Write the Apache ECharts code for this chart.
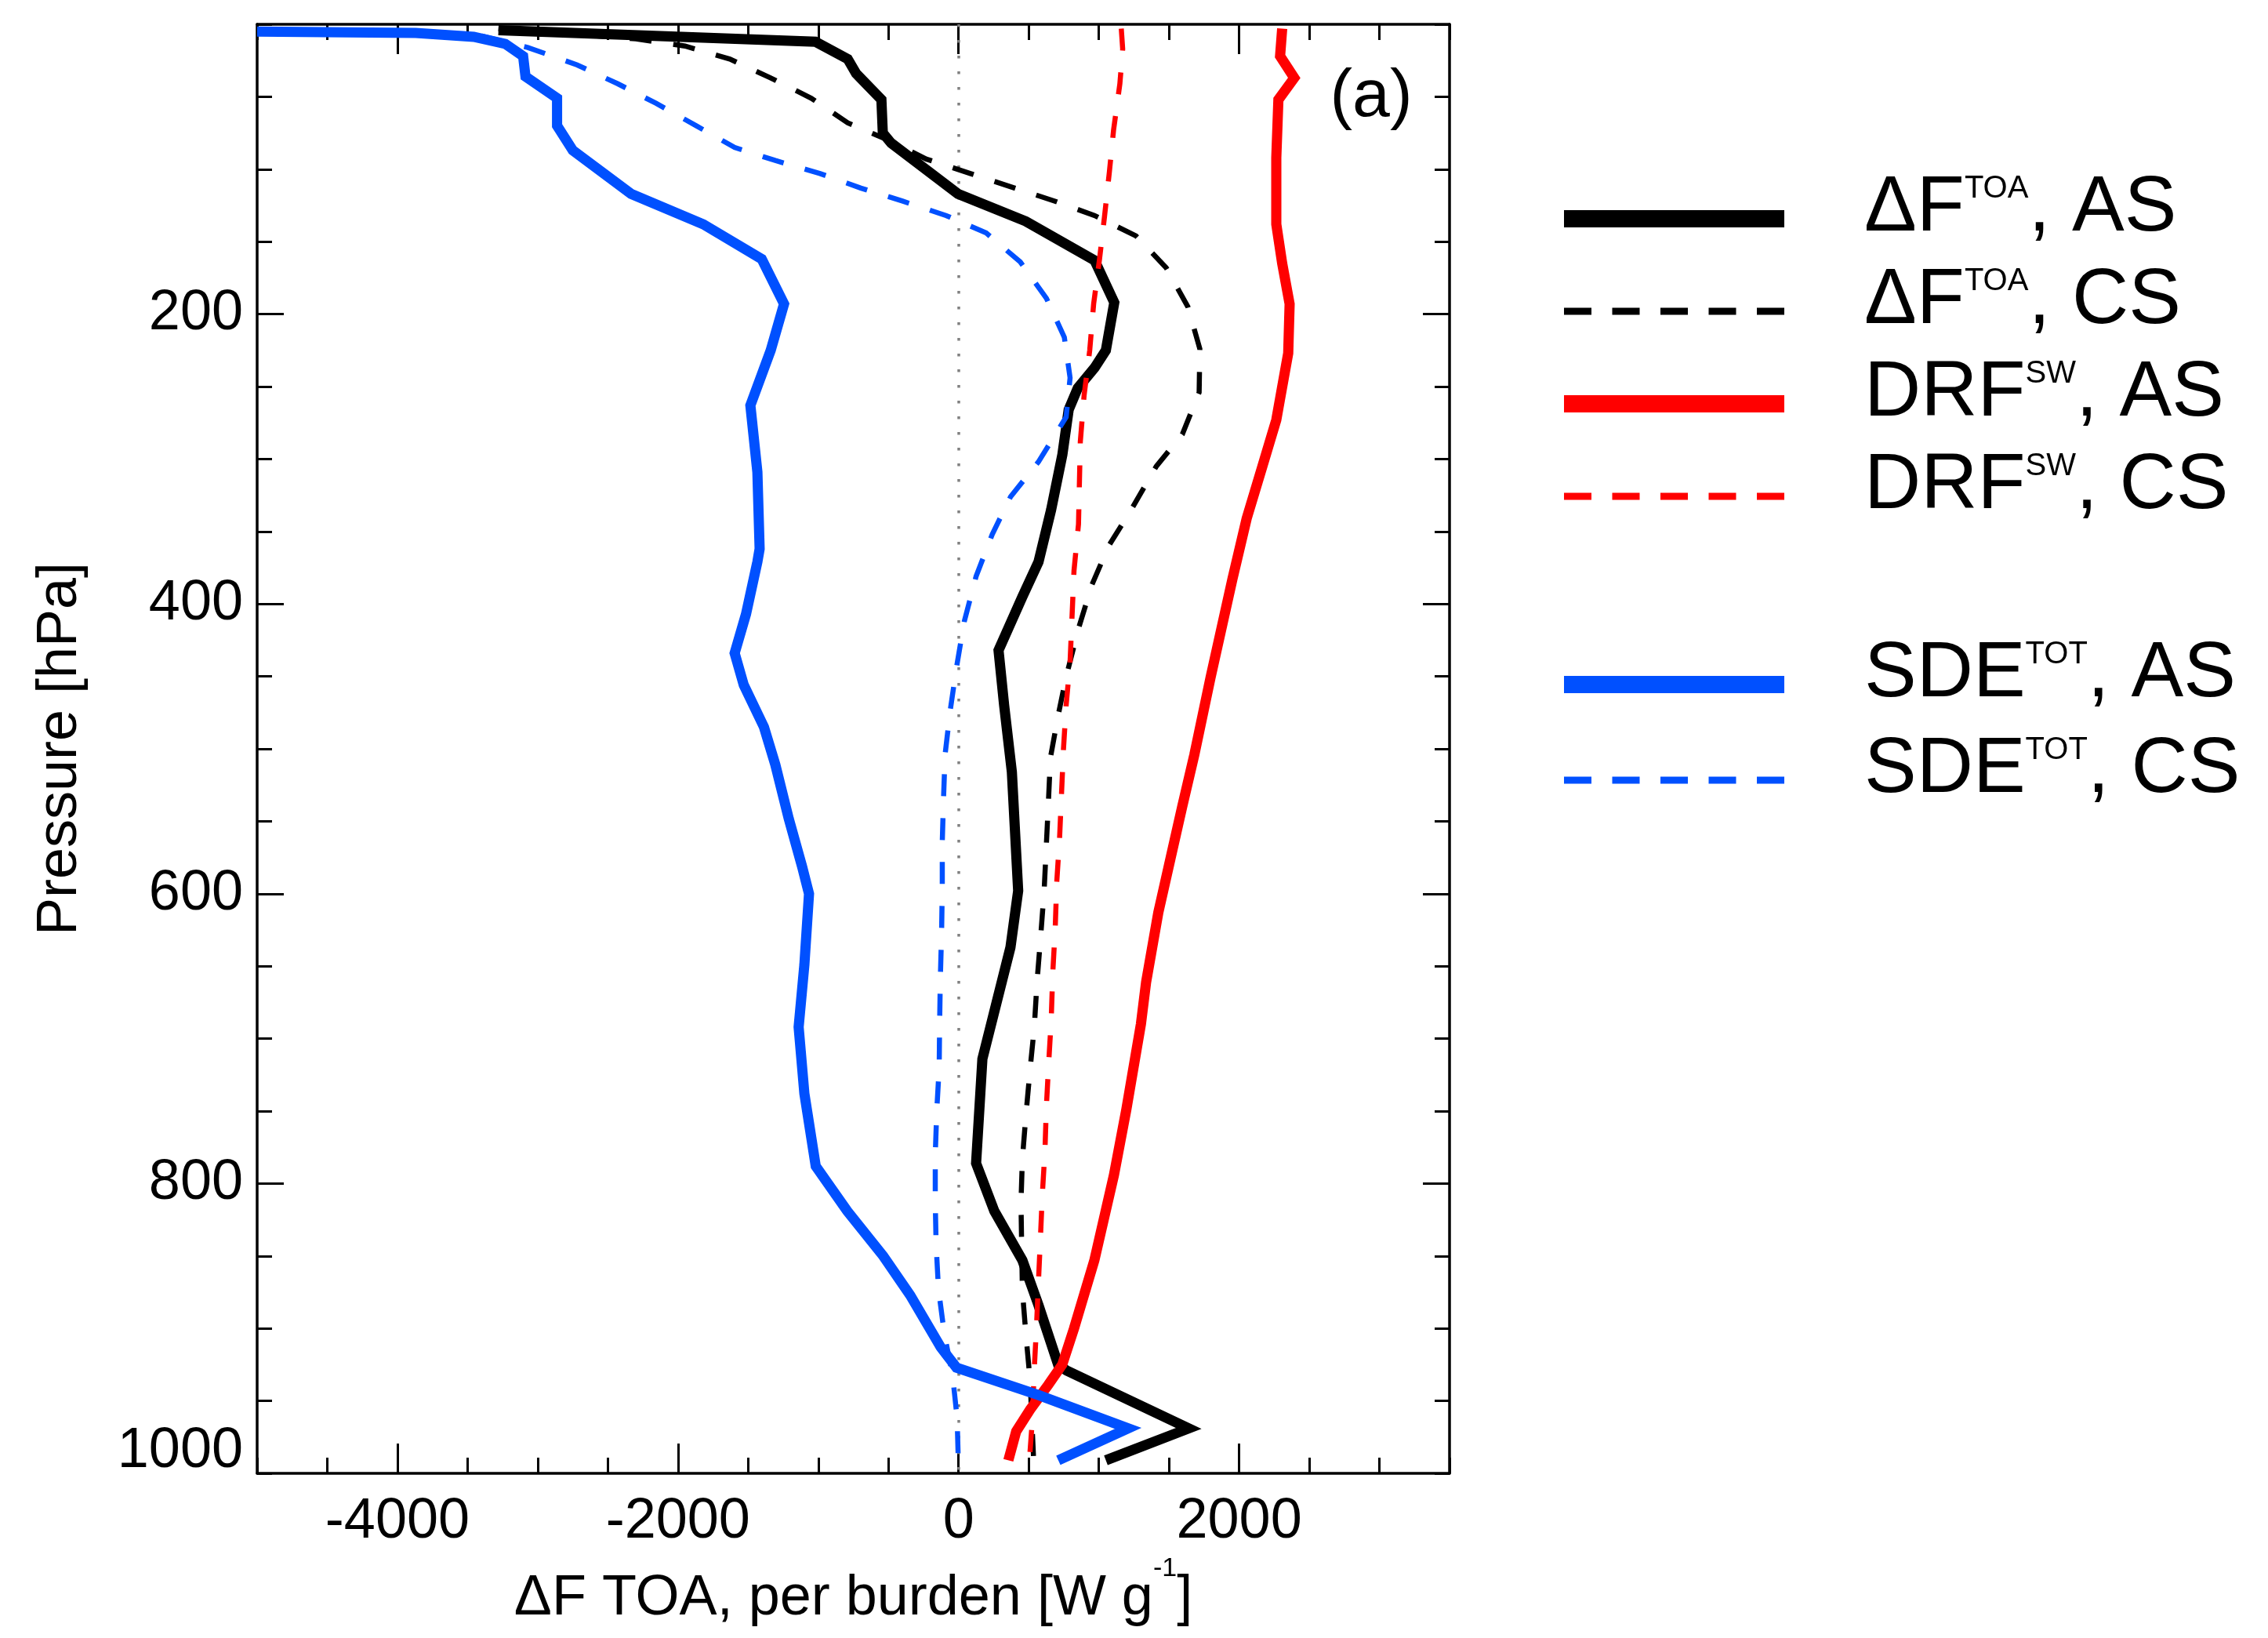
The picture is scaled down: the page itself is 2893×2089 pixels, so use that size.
<!DOCTYPE html>
<html>
<head>
<meta charset="utf-8">
<script src="https://cdn.jsdelivr.net/npm/echarts@6/dist/echarts.min.js"></script>
<style>html,body{margin:0;padding:0;background:#fff}#c{width:2893px;height:2089px}</style>
</head>
<body>
<div id="c"></div>
<script>
const FONT = '"Liberation Sans", Arial, Helvetica, sans-serif';

// ---- data (x: W g^-1, p: hPa) ----
const dfAS_x = [-3280, -1020, -790, -730, -550, -540, -480, -4, 480, 970, 1110, 1050, 970, 850, 785, 740, 660, 570, 455, 285, 325, 380, 425, 370, 170, 125, 255, 455, 570, 710, 770, 1640, 1050];
const dfAS_p = [4, 12, 24, 34, 52, 75, 82, 117, 136, 163, 192, 225, 237, 251, 266, 297, 335, 371, 395, 432, 470, 516, 598, 637, 714, 786, 819, 853, 884, 925, 929, 969, 991];

const dfCS_x = [-3280, -2300, -1950, -1630, -1340, -1050, -790, -500, -230, 85, 400, 685, 970, 1265, 1480, 1635, 1720, 1715, 1595, 1410, 1225, 1070, 950, 855, 765, 710, 655, 640, 625, 610, 585, 560, 540, 510, 480, 455, 445, 450, 455, 480, 510, 527, 535];
const dfCS_p = [3, 10, 15, 24, 37, 51, 68, 80, 93, 103, 113, 122, 132, 146, 168, 195, 224, 254, 283, 305, 336, 360, 387, 417, 451, 477, 506, 538, 568, 598, 630, 660, 692, 721, 753, 783, 813, 844, 874, 904, 936, 973, 990];

const drfAS_x = [2307, 2292, 2393, 2280, 2265, 2265, 2307, 2360, 2350, 2300, 2265, 2166, 2054, 1952, 1796, 1681, 1594, 1510, 1424, 1337, 1300, 1196, 1108, 968, 823, 739, 639, 510, 411, 355];
const drfAS_p = [3, 22, 37, 52, 92, 138, 165, 193, 227, 254, 273, 305, 341, 383, 451, 504, 540, 576, 613, 661, 690, 749, 794, 853, 900, 925, 939, 956, 971, 991];

const drfCS_x = [1160, 1170, 1150, 1105, 1075, 1040, 1005, 963, 935, 895, 868, 855, 823, 795, 767, 748, 734, 720, 700, 689, 672, 660, 643, 626, 616, 597, 583, 569, 555, 538, 527, 505];
const drfCS_p = [3, 17, 41, 73, 102, 133, 162, 193, 225, 256, 288, 345, 377, 440, 470, 500, 531, 562, 592, 624, 654, 688, 716, 747, 777, 808, 839, 869, 900, 931, 962, 991];

const sdeAS_x = [-5000, -3870, -3456, -3231, -3104, -3087, -2862, -2862, -2750, -2334, -1820, -1403, -1244, -1339, -1484, -1434, -1418, -1434, -1515, -1596, -1531, -1387, -1306, -1211, -1116, -1066, -1099, -1140, -1099, -1018, -793, -537, -345, -127, -15, 569, 1209, 711];
const sdeAS_p = [5, 6, 8.6, 13.5, 22, 36, 51, 70, 87, 117, 138, 162, 193, 225, 263, 309, 362, 371, 407, 434, 456, 485, 511, 548, 581, 600, 649, 692, 738, 788, 819, 850, 877, 913, 927, 946, 969, 991];

const sdeCS_x = [-3400, -3070, -2720, -2430, -2157, -1870, -1596, -1306, -987, -697, -400, -88, 197, 440, 626, 754, 795, 767, 569, 371, 240, 125, 41, -15, -60, -96, -107, -116, -116, -121, -130, -135, -138, -155, -166, -166, -160, -143, -101, -43, -10, -2];
const sdeCS_p = [8, 16, 28, 41, 54.5, 70, 85, 94, 103, 113, 122, 132, 144, 164, 189, 216, 244, 271, 302, 326, 352, 381, 412, 444, 474, 504, 534, 564, 596, 627, 659, 690, 720, 749, 780, 813, 842, 873, 904, 932, 962, 991];

const xMajorTicks = [-4000, -2000, 0, 2000];
const yMajorTicks = [200, 400, 600, 800];
const yTickLabels = [200, 400, 600, 800, 1000];
const zeroRef = 0;

const seriesNames = ['ΔF TOA, AS', 'ΔF TOA, CS', 'DRF SW, AS', 'DRF SW, CS', 'SDE TOT, AS', 'SDE TOT, CS'];
const legendRich = {
  'ΔF TOA, AS': '{m|ΔF}{s|TOA}{m|, AS}',
  'ΔF TOA, CS': '{m|ΔF}{s|TOA}{m|, CS}',
  'DRF SW, AS': '{m|DRF}{s|SW}{m|, AS}',
  'DRF SW, CS': '{m|DRF}{s|SW}{m|, CS}',
  'SDE TOT, AS': '{m|SDE}{s|TOT}{m|, AS}',
  'SDE TOT, CS': '{m|SDE}{s|TOT}{m|, CS}'
};

function zip(xs, ps) { return xs.map((x, i) => [x, ps[i]]); }

const BLACK = '#000000', RED = '#ff0000', BLUE = '#0050ff';
const SOLID_W = 13, DASH_W = 6.5, DASH = [28, 28];

function mkSeries(name, xs, ps, color, dashed) {
  return {
    name: name, type: 'line', data: zip(xs, ps),
    symbol: 'none', showSymbol: false, clip: true,
    lineStyle: { color: color, width: dashed ? DASH_W : SOLID_W, type: dashed ? DASH : 'solid', join: 'miter', miterLimit: 4 },
    itemStyle: { color: color },
    emphasis: { disabled: true },
    animation: false
  };
}

const series = [
  mkSeries(seriesNames[0], dfAS_x, dfAS_p, BLACK, false),
  mkSeries(seriesNames[1], dfCS_x, dfCS_p, BLACK, true),
  mkSeries(seriesNames[2], drfAS_x, drfAS_p, RED, false),
  mkSeries(seriesNames[3], drfCS_x, drfCS_p, RED, true),
  mkSeries(seriesNames[4], sdeAS_x, sdeAS_p, BLUE, false),
  mkSeries(seriesNames[5], sdeCS_x, sdeCS_p, BLUE, true)
];
series[0].markLine = {
  silent: true, z: 1, symbol: ['none', 'none'], label: { show: false },
  lineStyle: { color: '#808080', type: [3.5, 16.5], width: 3.5 },
  animation: false,
  data: [{ xAxis: zeroRef }]
};

const textCommon = { fontFamily: FONT, color: '#000' };
const legendText = {
  fontFamily: FONT, color: '#000', padding: [0, 0, 26, 97],
  rich: {
    m: { fontSize: 100, lineHeight: 90, fontFamily: FONT, color: '#000' },
    s: { fontSize: 40, lineHeight: 48, verticalAlign: 'top', fontFamily: FONT, color: '#000' }
  }
};
function legendItem(name, dashed) {
  return dashed
    ? { name: name, lineStyle: { width: 9, type: [35, 26.5] }, itemStyle: { opacity: 0 } }
    : { name: name, lineStyle: { width: 22, type: 'solid' }, itemStyle: { opacity: 0 } };
}
function mkLegend(items, top, gap) {
  return {
    data: items, orient: 'vertical', left: 1984, top: top, padding: 0,
    itemWidth: 281, itemHeight: 22, itemGap: gap, selectedMode: false,
    formatter: n => legendRich[n], textStyle: legendText
  };
}

const axisLineStyle = { color: '#000', width: 3.5 };
const tickStyle = { color: '#000', width: 3 };
const X_MIN = -5000, X_MAX = 3500, Y_MIN = 0, Y_MAX = 1000;

function xAx(pos, major, labels) {
  const a = {
    type: 'value', min: X_MIN, max: X_MAX, position: pos, interval: 500,
    axisLine: { show: !major, onZero: false, lineStyle: axisLineStyle },
    axisTick: { show: true, inside: true, length: major ? 38 : 20, lineStyle: tickStyle },
    axisLabel: { show: false },
    splitLine: { show: false }
  };
  if (major) a.axisTick.customValues = xMajorTicks;
  if (labels) {
    a.axisLabel = { show: true, customValues: xMajorTicks, fontSize: 72, fontFamily: FONT, color: '#000', margin: 26, formatter: v => String(v) };
    a.name = '{m|ΔF TOA, per burden [W g}{s|-1}{m|]}';
    a.nameLocation = 'middle';
    a.nameGap = 105;
    a.nameTextStyle = {
      fontFamily: FONT, color: '#000',
      rich: {
        m: { fontSize: 72, lineHeight: 110, fontFamily: FONT, color: '#000' },
        s: { fontSize: 34, lineHeight: 50, verticalAlign: 'top', fontFamily: FONT, color: '#000' }
      }
    };
  }
  return a;
}
function yAx(pos, major, labels) {
  const a = {
    type: 'value', inverse: true, min: Y_MIN, max: Y_MAX, position: pos, interval: 50,
    axisLine: { show: !major, onZero: false, lineStyle: axisLineStyle },
    axisTick: { show: true, inside: true, length: major ? 34 : 19, lineStyle: tickStyle },
    axisLabel: { show: false },
    splitLine: { show: false }
  };
  if (major) a.axisTick.customValues = yMajorTicks;
  if (labels) {
    a.axisLabel = {
      show: true, customValues: yTickLabels, fontSize: 72, fontFamily: FONT, color: '#000', margin: 18,
      formatter: v => (v === 1000 ? '{low|' + v + '}' : String(v)),
      rich: { low: { fontSize: 72, fontFamily: FONT, color: '#000', padding: [0, 0, 56, 0] } }
    };
    a.name = 'Pressure [hPa]';
    a.nameLocation = 'middle';
    a.nameRotate = 90;
    a.nameGap = 211;
    a.nameTextStyle = { fontSize: 72, lineHeight: 80, fontFamily: FONT, color: '#000' };
  }
  return a;
}

const chart = echarts.init(document.getElementById('c'), null, { renderer: 'canvas' });
chart.setOption({
  animation: false,
  backgroundColor: '#ffffff',
  textStyle: textCommon,
  grid: { left: 328, top: 31, width: 1521, height: 1848, containLabel: false },
  xAxis: [xAx('bottom', false, true), xAx('bottom', true, false), xAx('top', false, false), xAx('top', true, false)],
  yAxis: [yAx('left', false, true), yAx('left', true, false), yAx('right', false, false), yAx('right', true, false)],
  legend: [
    mkLegend(seriesNames.slice(0, 4).map((n, i) => legendItem(n, i % 2 === 1)), 216, 18),
    mkLegend(seriesNames.slice(4, 6).map((n, i) => legendItem(n, i % 2 === 1)), 810, 22)
  ],
  graphic: [{
    type: 'text', x: 1749, y: 124, silent: true,
    style: { text: '(a)', fontSize: 86, fontFamily: FONT, fill: '#000', align: 'center', verticalAlign: 'middle', textAlign: 'center', textVerticalAlign: 'middle' }
  }],
  series: series
});
</script>
</body>
</html>
